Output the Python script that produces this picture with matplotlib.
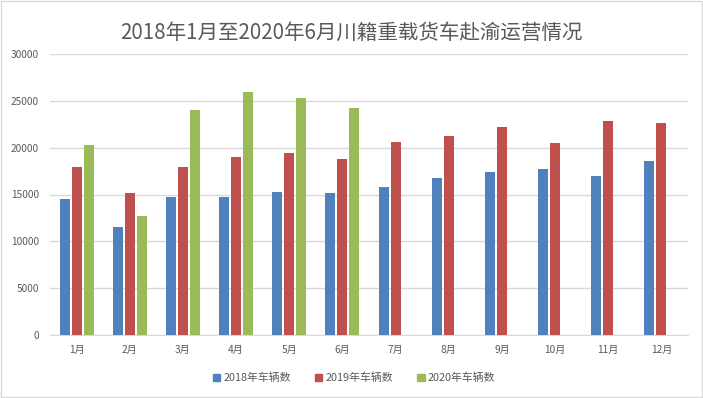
import matplotlib
matplotlib.use('Agg')
import matplotlib.pyplot as plt
import matplotlib.patches as mpatches
import numpy as np

plt.rcParams['font.family'] = ['Noto Sans CJK SC', 'DejaVu Sans']

# data
months = ['1月', '2月', '3月', '4月', '5月', '6月', '7月', '8月', '9月', '10月', '11月', '12月']
v2018 = [14540, 11540, 14750, 14750, 15280, 15180, 15820, 16780, 17420, 17740, 16990, 18600]
v2019 = [17960, 15180, 17960, 19020, 19450, 18810, 20630, 21270, 22230, 20520, 22870, 22660]
v2020 = [20310, 12720, 24050, 25970, 25330, 24260]
series_names = ['2018年车辆数', '2019年车辆数', '2020年车辆数']
colors = ['#4f81bd', '#c0504d', '#9bbb59']

fig = plt.figure(figsize=(7.03, 3.98), dpi=100)
ax = fig.add_axes([50 / 703, 63 / 398, 638 / 703, 281 / 398])

x = np.arange(len(months))
w = 0.188
step = 0.225
ax.bar(x - step, v2018, w, color=colors[0], zorder=3)
ax.bar(x, v2019, w, color=colors[1], zorder=3)
ax.bar(x[:len(v2020)] + step, v2020, w, color=colors[2], zorder=3)

ax.set_xlim(-0.5, len(months) - 0.5)
ax.set_ylim(0, 30000)
ax.set_yticks(range(0, 30001, 5000))
ax.set_xticks(x)
ax.set_xticklabels(months)
ax.yaxis.grid(True, color='#d9d9d9', linewidth=1, zorder=0)
ax.tick_params(axis='both', length=0, labelsize=7.3, labelcolor='#595959')
ax.tick_params(axis='y', pad=8)
ax.tick_params(axis='x', pad=7)
for s in ['top', 'right', 'left']:
    ax.spines[s].set_visible(False)
ax.spines['bottom'].set_color('#d9d9d9')

fig.suptitle('2018年1月至2020年6月川籍重载货车赴渝运营情况', y=0.945, fontsize=14.8,
             color='#595959', fontweight='light')

handles = [mpatches.Patch(color=c, label=n) for c, n in zip(colors, series_names)]
fig.legend(handles=handles, loc='center', bbox_to_anchor=(354 / 703, 1 - 378 / 398),
           ncol=3, frameon=False, fontsize=7.8, handlelength=0.7, handleheight=0.7,
           handletextpad=0.3, columnspacing=2.2, labelcolor='#595959')

# light frame around the chart
fig.patches.append(mpatches.Rectangle((0.001, 0.002), 0.997, 0.995, transform=fig.transFigure,
                                      fill=False, edgecolor='#d9d9d9', linewidth=1))

fig.savefig('out.png', dpi=100, facecolor='white')
